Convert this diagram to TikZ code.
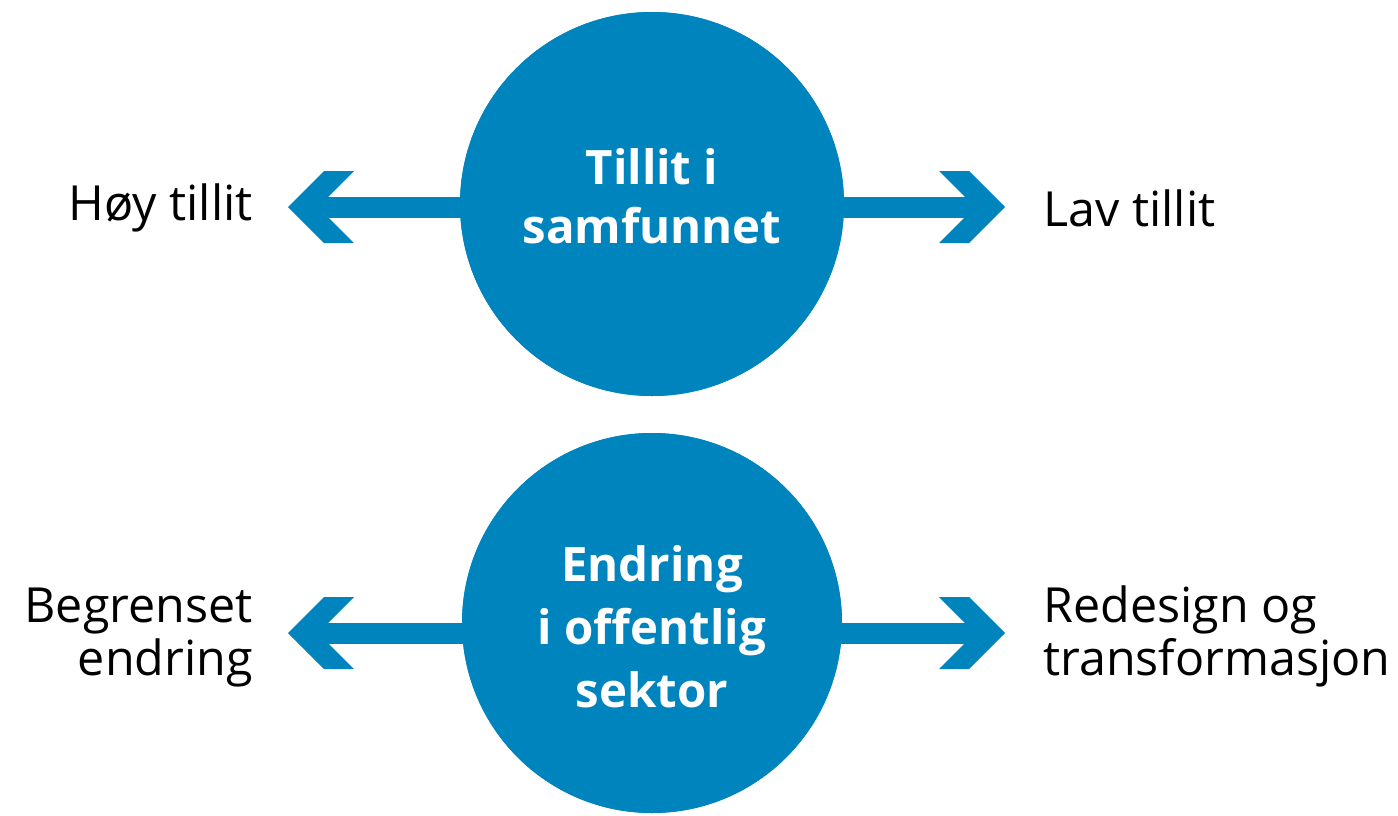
\documentclass[tikz,border=0pt]{standalone}
\usepackage{fontspec}
\setmainfont{Open Sans}
\definecolor{tillitblue}{RGB}{0,132,190}
\newcommand\chevron[2]{\fill [tillitblue] (#1) -- ++(#2*36,-36) -- ++(#2*30,0) -- ++(-#2*36,36) -- ++(#2*36,36) -- ++(-#2*30,0) -- cycle;}
\tikzset{
  bigdot/.style = {circle, fill = tillitblue, inner sep = 0pt},
  dottext/.style = {text = white, align = center, font = \fontsize{23.7}{#1}\selectfont\bfseries},
  sidetext/.style = {text = black, align = #1, font = \fontsize{24.2}{26.5}\selectfont, inner sep = 0pt},
  shaft/.style = {draw = tillitblue, line width = 10.5pt}
}
\begin{document}
\begin{tikzpicture}[x=0.5pt, y=-0.5pt]
  \useasboundingbox (0,0) rectangle (1398,815);
  \node [bigdot, minimum size = 192pt] (tillit) at (652,204) {};
  \node [bigdot, minimum size = 190pt] (endring) at (652,623) {};
  \coordinate (hoy-tip) at (288,207);
  \coordinate (lav-tip) at (1005,207);
  \coordinate (begr-tip) at (288,633);
  \coordinate (redes-tip) at (1005,633);
  \draw [shaft] (tillit.center |- hoy-tip) -- ([xshift=12pt]hoy-tip);
  \draw [shaft] (tillit.center |- lav-tip) -- ([xshift=-12pt]lav-tip);
  \draw [shaft] (endring.center |- begr-tip) -- ([xshift=12pt]begr-tip);
  \draw [shaft] (endring.center |- redes-tip) -- ([xshift=-12pt]redes-tip);
  \chevron{hoy-tip}{1}
  \chevron{lav-tip}{-1}
  \chevron{begr-tip}{1}
  \chevron{redes-tip}{-1}
  \node [bigdot, minimum size = 192pt] at (tillit) {};
  \node [bigdot, minimum size = 190pt] at (endring) {};
  \node [dottext = 29.5] (tillit-txt) at (652,196) {Tillit i\\samfunnet};
  \node [dottext = 31.5] (endring-txt) at (652,627) {Endring\\i offentlig\\sektor};
  \node [sidetext = right, anchor = east] (hoy) at (253,208) {Høy tillit};
  \node [sidetext = left, anchor = west] (lav) at (1043,208) {Lav tillit};
  \node [sidetext = right, anchor = east] (begr) at (253,638) {Begrenset\\endring};
  \node [sidetext = left, anchor = west] (redes) at (1043,636) {Redesign og\\transformasjon};
\end{tikzpicture}
\end{document}
